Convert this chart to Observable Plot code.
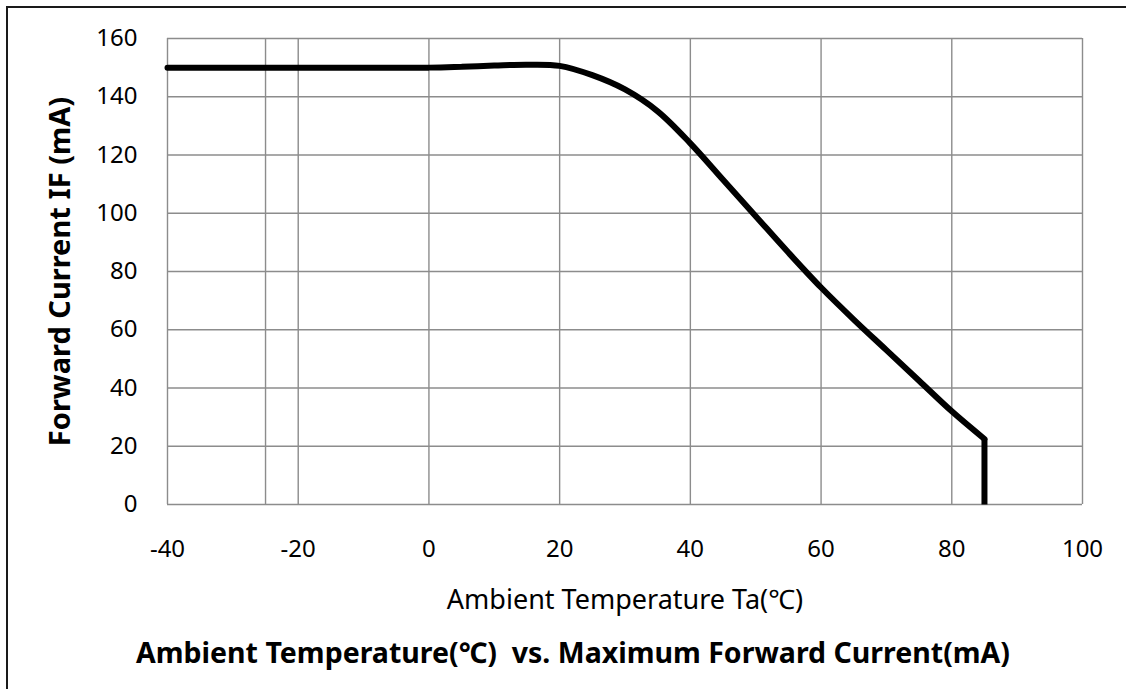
<!DOCTYPE html>
<html>
<head>
<meta charset="utf-8">
<script src="https://cdn.jsdelivr.net/npm/d3@7"></script>
<script src="https://cdn.jsdelivr.net/npm/@observablehq/plot@0.6"></script>
<style>
  html, body { margin: 0; padding: 0; background: #fff; overflow: hidden; }
  body { width: 1126px; height: 689px; position: relative; font-family: "Noto Sans", "DejaVu Sans", sans-serif; }
  #frame { position: absolute; left: 6px; top: 6px; width: 1200px; height: 800px; border-left: 2px solid #1a1a1a; border-top: 2px solid #1a1a1a; pointer-events: none; }
  #chart { position: absolute; left: 0; top: 0; }
  #title { position: absolute; left: 0; top: 630px; width: 1106px; padding-left: 20px; height: 44px; line-height: 44px; text-align: center; font-weight: bold; font-size: 28.5px; white-space: pre; color: #000; }
</style>
</head>
<body>
<div id="chart"></div>
<div id="title"></div>
<div id="frame"></div>
<script>
// Data
const temps    = [-40, -20, 0, 5, 10, 15, 20, 25, 30, 35, 40, 45, 50, 55, 60, 65, 70, 75, 80, 85];
const currents = [150, 150, 150, 150.3, 150.7, 151, 150.6, 147.4, 142.5, 135, 124, 111.5, 99, 86.5, 74.5, 63.5, 53, 42.5, 32, 22.5];
const dropTemps    = [85, 85];
const dropCurrents = [22.5, 0];

const xTicks = [-40, -20, 0, 20, 40, 60, 80, 100];
const xGrid  = [-40, -25, -20, 0, 20, 40, 60, 80, 100];
const yTicks = [0, 20, 40, 60, 80, 100, 120, 140, 160];

const xLabel = "Ambient Temperature Ta(℃)";
const yLabel = "Forward Current IF (mA)";
const titleText = "Ambient Temperature(℃)  vs. Maximum Forward Current(mA)";

const curve = temps.map((t, i) => ({t, v: currents[i]}));
const drop = dropTemps.map((t, i) => ({t, v: dropCurrents[i]}));

const grid = "#8c8c8c";

const chart = Plot.plot({
  width: 1126,
  height: 630,
  marginLeft: 167,
  marginRight: 44,
  marginTop: 38,
  marginBottom: 126,
  style: { fontFamily: '"Noto Sans", "DejaVu Sans", sans-serif', background: "#fff", color: "#000" },
  x: { domain: [-40, 100] },
  y: { domain: [0, 160] },
  marks: [
    Plot.ruleX(xGrid, { stroke: grid, strokeWidth: 1.4 }),
    Plot.ruleY(yTicks, { stroke: grid, strokeWidth: 1.4 }),
    Plot.axisX({ ticks: xTicks, tickSize: 0, tickPadding: 35, fontSize: 24, label: null, tickFormat: d => String(d) }),
    Plot.axisY({ ticks: yTicks, tickSize: 0, tickPadding: 30, fontSize: 24, label: null, tickFormat: d => String(d) }),
    Plot.line(curve, { x: "t", y: "v", stroke: "#000", strokeWidth: 6, curve: "catmull-rom", strokeLinejoin: "miter" }),
    Plot.line(drop, { x: "t", y: "v", stroke: "#000", strokeWidth: 6, strokeLinecap: "butt" }),
    Plot.text([xLabel], { frameAnchor: "bottom", dy: 104, fontSize: 27, fill: "#000" }),
    Plot.text([yLabel], { frameAnchor: "left", textAnchor: "middle", dx: -107, rotate: -90, fontSize: 29, fontWeight: "bold", fill: "#000" })
  ]
});
document.getElementById("chart").appendChild(chart);
document.getElementById("title").textContent = titleText;
</script>
</body>
</html>
